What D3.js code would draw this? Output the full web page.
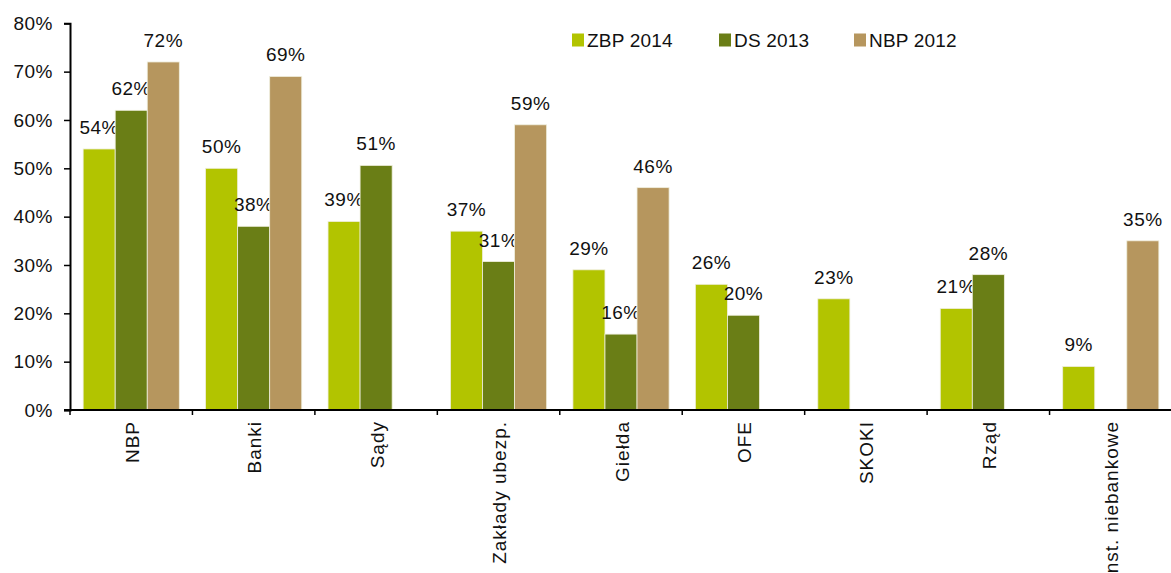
<!DOCTYPE html>
<html>
<head>
<meta charset="utf-8">
<script src="https://cdn.jsdelivr.net/npm/d3@7"></script>
<style>
  body { margin: 0; background: #fff; }
  text { font-family: "Liberation Sans", Arial, sans-serif; font-size: 19px; letter-spacing: 0.5px; fill: #111; }
</style>
</head>
<body>
<svg width="1171" height="573"></svg>
<script>
// data
var categories = ["NBP", "Banki", "Sądy", "Zakłady ubezp.", "Giełda", "OFE", "SKOKI", "Rząd", "Inst. niebankowe"];
var seriesNames = ["ZBP 2014", "DS 2013", "NBP 2012"];
var zbp2014 = [54, 50, 39, 37, 29, 26, 23, 21, 9];
var ds2013 = [62, 38, 50.6, 30.7, 15.7, 19.6, null, 28, null];
var nbp2012 = [72, 69, null, 59, 46, null, null, null, 35];
var yTicks = [0, 10, 20, 30, 40, 50, 60, 70, 80];
var colors = ["#b2c400", "#6a7e16", "#b6965e"];

var series = [zbp2014, ds2013, nbp2012];

var svg = d3.select("svg");

var x = d3.scaleBand()
  .domain(categories)
  .range([70, 1172]);

var xInner = d3.scaleBand()
  .domain(seriesNames)
  .range([0, x.bandwidth()])
  .paddingOuter(0.41);

var y = d3.scaleLinear()
  .domain([0, 80])
  .range([410, 23.3]);

// bars
series.forEach(function(vals, si) {
  var g = svg.append("g");
  var pts = categories.map(function(c, i) { return { cat: c, v: vals[i] }; })
    .filter(function(d) { return d.v != null; });

  g.selectAll("rect")
    .data(pts)
    .enter()
    .append("rect")
    .attr("x", function(d) { return x(d.cat) + xInner(seriesNames[si]); })
    .attr("y", function(d) { return y(d.v); })
    .attr("width", xInner.bandwidth())
    .attr("height", function(d) { return y(0) - y(d.v); })
    .attr("fill", colors[si])
    .attr("stroke", "#efeedd")
    .attr("stroke-width", 0.8);

  g.selectAll("text")
    .data(pts)
    .enter()
    .append("text")
    .attr("x", function(d) { return x(d.cat) + xInner(seriesNames[si]) + xInner.bandwidth() / 2; })
    .attr("y", function(d) { return y(d.v) - 15; })
    .attr("text-anchor", "middle")
    .text(function(d) { return Math.round(d.v) + "%"; });
});

// y axis
var yAxis = svg.append("g")
  .attr("transform", "translate(70,0)")
  .call(d3.axisLeft(y).tickValues(yTicks).tickSize(6).tickPadding(11)
    .tickFormat(function(d) { return d + "%"; }));
yAxis.select(".domain").attr("stroke", "#000").attr("stroke-width", 2);
yAxis.selectAll(".tick line").attr("stroke", "#000").attr("stroke-width", 1.5);
yAxis.selectAll("text")
  .style("font-family", "'Liberation Sans', Arial, sans-serif")
  .style("font-size", "19px")
  .attr("fill", "#111");
yAxis.attr("font-size", null).attr("font-family", null);

// x axis
var xAxisG = svg.append("g");
xAxisG.append("line")
  .attr("x1", 64).attr("x2", 1171)
  .attr("y1", y(0)).attr("y2", y(0))
  .attr("stroke", "#000").attr("stroke-width", 2);
xAxisG.selectAll("line.tk")
  .data(categories)
  .enter()
  .append("line")
  .attr("class", "tk")
  .attr("x1", function(d) { return x(d); })
  .attr("x2", function(d) { return x(d); })
  .attr("y1", y(0)).attr("y2", y(0) + 5)
  .attr("stroke", "#000").attr("stroke-width", 1.5);
xAxisG.selectAll("text")
  .data(categories)
  .enter()
  .append("text")
  .attr("transform", function(d) {
    return "translate(" + (x(d) + x.bandwidth() / 2 + 7.5) + "," + (y(0) + 11) + ") rotate(-90)";
  })
  .attr("text-anchor", "end")
  .style("letter-spacing", "1px")
  .text(function(d) { return d; });

// legend
var legendX = [572, 719, 854];
var legend = svg.append("g");
seriesNames.forEach(function(name, i) {
  legend.append("rect")
    .attr("x", legendX[i]).attr("y", 33.5)
    .attr("width", 12).attr("height", 13)
    .attr("fill", colors[i]);
  legend.append("text")
    .attr("x", legendX[i] + 15).attr("y", 47)
    .style("letter-spacing", "0.2px")
    .text(name);
});
</script>
</body>
</html>
